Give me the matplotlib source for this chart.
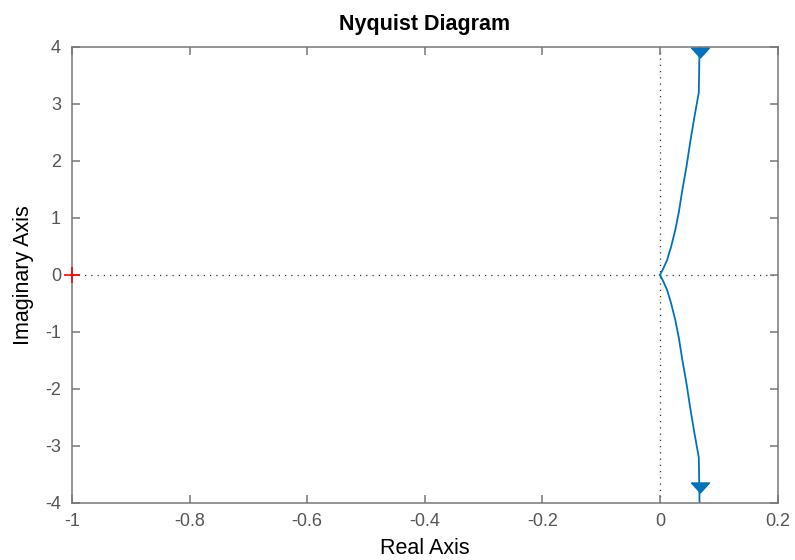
import numpy as np
import matplotlib
matplotlib.use("Agg")
from matplotlib import pyplot as plt

plt.rcParams['font.family'] = ['Liberation Sans', 'DejaVu Sans']
plt.rcParams['axes.unicode_minus'] = False

# upper branch of the Nyquist curve (lower branch is its mirror image)
nyq_re = [0.0, 0.005, 0.012, 0.019, 0.026, 0.032, 0.038, 0.045, 0.052, 0.059, 0.066, 0.068]
nyq_im = [0.0, 0.10, 0.26, 0.50, 0.79, 1.10, 1.49, 1.90, 2.37, 2.80, 3.20, 4.5]
# arrow positions on the curve
arrow_re = [0.068, 0.068]
arrow_im = [3.91, -3.72]
critical_pt = (-1, 0)

x_ticks = [-1, -0.8, -0.6, -0.4, -0.2, 0, 0.2]
x_labels = ['-1', '-0.8', '-0.6', '-0.4', '-0.2', '0', '0.2']
y_ticks = [-4, -3, -2, -1, 0, 1, 2, 3, 4]

blue = '#0072BD'
gray = '#777777'

fig = plt.figure(figsize=(7.95, 5.6), dpi=100)
ax = fig.add_axes([0.0906, 0.1018, 0.8875, 0.8143])

re = np.array(nyq_re)
im = np.array(nyq_im)
ax.plot(re, im, color=blue, lw=1.3)
ax.plot(re, -im, color=blue, lw=1.3)

# wide, flat downward arrow head
arrow_head = [(-1, 0.5), (1, 0.5), (0, -0.6), (-1, 0.5)]
ax.plot(arrow_re, arrow_im, linestyle='none', marker=arrow_head, markersize=13,
        color=blue, markeredgecolor=blue)

# dotted axes through the origin
ax.axhline(0, color='#333333', ls=(0, (1, 4)), lw=0.9, zorder=0)
ax.axvline(0, color='#333333', ls=(0, (1, 4)), lw=0.9, zorder=0)

# critical point
ax.plot(critical_pt[0], critical_pt[1], marker='+', color='red',
        markersize=11, mew=1.2, clip_on=False, zorder=5)

ax.set_xlim(-1, 0.2)
ax.set_ylim(-4, 4)
ax.set_xticks(x_ticks)
ax.set_xticklabels(x_labels)
ax.set_yticks(y_ticks)

for s in ax.spines.values():
    s.set_color(gray)
    s.set_linewidth(1.1)
ax.tick_params(direction='in', length=6, width=1.1, color=gray,
               labelcolor='#555555', labelsize=13, top=True, right=True)
ax.tick_params(axis='x', pad=7)
ax.tick_params(axis='y', pad=8)

ax.set_title('Nyquist Diagram', fontsize=15.5, fontweight='bold', pad=12)
ax.set_xlabel('Real Axis', fontsize=15.5, labelpad=6)
ax.set_ylabel('Imaginary Axis', fontsize=15.5, labelpad=8)

fig.savefig('out.png', dpi=100)
